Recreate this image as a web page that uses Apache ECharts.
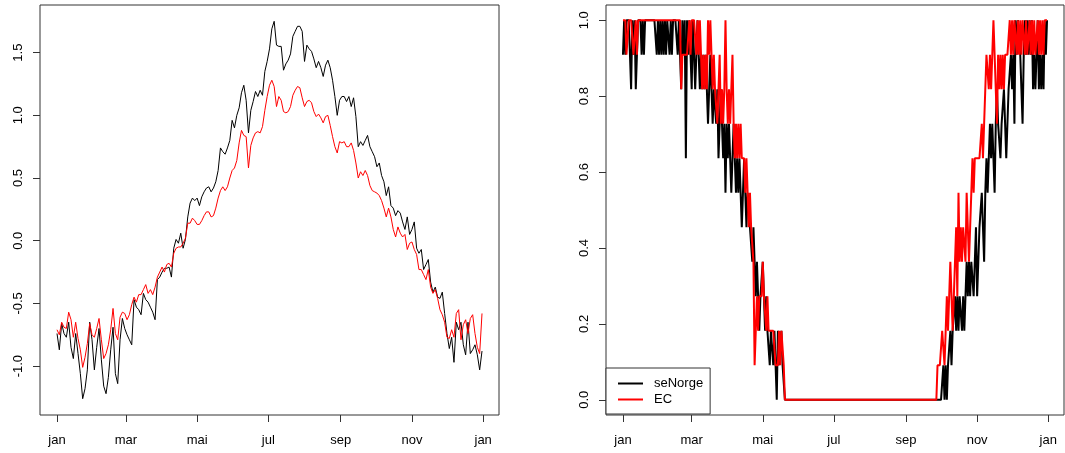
<!DOCTYPE html>
<html><head><meta charset="utf-8">
<script src="https://cdn.jsdelivr.net/npm/echarts@6/dist/echarts.min.js"></script>
<style>html,body{margin:0;padding:0;background:#fff}#c{width:1065px;height:453px}</style>
</head><body><div id="c"></div>
<script>
// ---- tick positions / labels ----
const monthTickDays = [1, 60, 121, 182, 244, 305, 366];
const monthTickLabels = ['jan', 'mar', 'mai', 'jul', 'sep', 'nov', 'jan'];
const anomTicks = [-1.0, -0.5, 0.0, 0.5, 1.0, 1.5];
const fracTicks = [0.0, 0.2, 0.4, 0.6, 0.8, 1.0];

// ---- left panel: anomaly series, sampled every 2nd day (day 1,3,...,365) ----
const anomDays = Array.from({length: 183}, (_, i) => 1 + 2 * i);
const senorgeAnom = [
 -0.74,-0.87,-0.66,-0.74,-0.77,-0.65,-0.85,-0.94,-0.74,-0.90,
 -1.06,-1.26,-1.18,-1.03,-0.65,-0.79,-1.03,-0.85,-0.70,-0.95,
 -1.16,-1.22,-1.09,-0.87,-0.69,-1.06,-1.14,-0.79,-0.62,-0.70,
 -0.75,-0.79,-0.83,-0.47,-0.53,-0.55,-0.59,-0.42,-0.47,-0.49,
 -0.53,-0.57,-0.63,-0.31,-0.29,-0.25,-0.22,-0.22,-0.21,-0.29,
 -0.06,0.01,-0.02,0.06,-0.06,0.01,0.19,0.30,0.34,0.32,
 0.34,0.28,0.35,0.39,0.42,0.43,0.39,0.42,0.47,0.56,
 0.74,0.71,0.69,0.74,0.80,0.96,0.90,1.00,1.06,1.18,
 1.24,1.12,0.86,1.04,1.11,1.19,1.15,1.20,1.16,1.35,
 1.43,1.53,1.69,1.75,1.56,1.55,1.55,1.36,1.41,1.44,
 1.49,1.63,1.67,1.71,1.71,1.67,1.43,1.56,1.53,1.51,
 1.45,1.38,1.43,1.38,1.31,1.40,1.44,1.38,1.28,1.15,
 1.00,1.12,1.15,1.15,1.11,1.15,1.07,1.14,0.99,0.75,
 0.79,0.76,0.80,0.84,0.75,0.71,0.67,0.59,0.62,0.52,
 0.47,0.36,0.43,0.28,0.26,0.20,0.24,0.22,0.15,0.09,
 0.19,0.05,0.09,0.15,-0.06,-0.10,-0.07,-0.23,-0.19,-0.15,
 -0.33,-0.41,-0.37,-0.45,-0.46,-0.41,-0.58,-0.74,-0.86,-0.77,
 -0.97,-0.65,-0.71,-0.65,-0.83,-0.91,-0.65,-0.90,-0.87,-0.83,
 -0.91,-1.03,-0.88
];
const ecAnom = [
 -0.71,-0.75,-0.65,-0.69,-0.70,-0.57,-0.63,-0.77,-0.65,-0.78,
 -0.87,-1.01,-0.93,-0.82,-0.66,-0.75,-0.77,-0.70,-0.62,-0.79,
 -0.94,-0.90,-0.83,-0.71,-0.54,-0.74,-0.79,-0.61,-0.57,-0.58,
 -0.63,-0.59,-0.51,-0.45,-0.49,-0.43,-0.43,-0.39,-0.35,-0.42,
 -0.39,-0.43,-0.37,-0.29,-0.25,-0.21,-0.25,-0.19,-0.18,-0.21,
 -0.10,-0.06,-0.05,-0.05,-0.02,0.02,0.14,0.14,0.18,0.16,
 0.13,0.13,0.16,0.20,0.23,0.23,0.19,0.20,0.26,0.34,
 0.40,0.43,0.40,0.43,0.50,0.56,0.58,0.64,0.78,0.88,
 0.84,0.83,0.58,0.76,0.82,0.86,0.87,0.86,0.91,1.04,
 1.15,1.24,1.28,1.23,1.07,1.15,1.12,1.03,1.02,1.03,
 1.07,1.16,1.20,1.23,1.22,1.14,1.07,1.11,1.12,1.10,
 1.03,0.99,1.01,0.98,0.94,0.99,1.00,0.92,0.83,0.75,
 0.70,0.79,0.78,0.79,0.75,0.75,0.78,0.72,0.62,0.50,
 0.55,0.52,0.56,0.52,0.44,0.40,0.39,0.38,0.36,0.32,
 0.26,0.19,0.26,0.19,0.09,0.03,0.11,0.06,0.03,0.05,
 -0.07,-0.02,-0.01,-0.07,-0.11,-0.23,-0.23,-0.27,-0.31,-0.23,
 -0.37,-0.42,-0.39,-0.46,-0.55,-0.59,-0.65,-0.77,-0.78,-0.71,
 -0.77,-0.58,-0.55,-0.79,-0.67,-0.63,-0.74,-0.62,-0.59,-0.74,
 -0.85,-0.90,-0.58
];

// ---- right panel: daily number of stations (of 11) with snow, day 1..365 ----
const nStations = 11;
const dayOfYear = Array.from({length: 365}, (_, i) => i + 1);
const senorgeCount = [
 10,11,10,11,11,11,10,9,11,10,
 11,9,10,11,11,11,10,11,10,11,
 11,11,11,11,11,11,11,11,11,10,
 11,10,11,10,11,10,11,10,11,11,
 10,11,10,11,11,11,11,10,11,10,
 9,11,10,11,7,11,10,11,10,9,
 11,10,9,10,11,10,9,10,9,10,
 9,10,9,8,9,10,9,8,9,9,
 8,9,7,8,9,8,7,8,6,8,
 7,8,7,6,7,8,7,6,7,6,
 7,6,5,6,7,6,5,6,6,5,
 5,4,5,4,3,4,3,2,3,3,
 4,3,2,3,2,2,1,2,2,1,
 2,2,0,2,1,1,2,1,1,0,
 0,0,0,0,0,0,0,0,0,0,
 0,0,0,0,0,0,0,0,0,0,
 0,0,0,0,0,0,0,0,0,0,
 0,0,0,0,0,0,0,0,0,0,
 0,0,0,0,0,0,0,0,0,0,
 0,0,0,0,0,0,0,0,0,0,
 0,0,0,0,0,0,0,0,0,0,
 0,0,0,0,0,0,0,0,0,0,
 0,0,0,0,0,0,0,0,0,0,
 0,0,0,0,0,0,0,0,0,0,
 0,0,0,0,0,0,0,0,0,0,
 0,0,0,0,0,0,0,0,0,0,
 0,0,0,0,0,0,0,0,0,0,
 0,0,0,0,0,1,0,1,0,1,
 1,2,1,2,2,3,2,3,2,3,
 3,2,3,2,3,4,3,4,3,4,
 4,3,4,5,3,4,5,5,6,5,
 4,6,7,6,7,8,7,8,7,6,
 8,9,8,8,7,8,8,9,8,7,
 8,9,9,10,9,10,8,11,10,11,
 11,10,9,8,10,11,10,11,10,11,
 10,11,9,10,9,10,11,9,10,9,
 10,9,11,10,11
];
const ecCount = [
 11,11,11,10,10,11,11,11,11,10,
 10,11,10,11,11,11,11,11,11,11,
 11,11,11,11,11,11,11,11,11,11,
 11,11,11,11,11,11,11,11,11,11,
 11,11,11,11,11,11,11,11,11,11,
 9,10,10,10,10,10,10,11,10,11,
 11,11,11,10,11,10,11,10,9,10,
 9,10,9,11,10,11,10,9,10,9,
 9,8,9,10,8,9,8,9,11,9,
 8,9,8,9,10,8,7,8,7,8,
 7,8,7,7,7,6,7,6,5,6,
 5,5,4,1,2,3,2,3,3,3,
 4,3,3,2,3,2,2,2,2,2,
 2,1,1,1,2,1,2,2,1,0,
 0,0,0,0,0,0,0,0,0,0,
 0,0,0,0,0,0,0,0,0,0,
 0,0,0,0,0,0,0,0,0,0,
 0,0,0,0,0,0,0,0,0,0,
 0,0,0,0,0,0,0,0,0,0,
 0,0,0,0,0,0,0,0,0,0,
 0,0,0,0,0,0,0,0,0,0,
 0,0,0,0,0,0,0,0,0,0,
 0,0,0,0,0,0,0,0,0,0,
 0,0,0,0,0,0,0,0,0,0,
 0,0,0,0,0,0,0,0,0,0,
 0,0,0,0,0,0,0,0,0,0,
 0,0,0,0,0,0,0,0,0,0,
 1,1,1,1,2,2,1,2,3,2,
 3,4,3,2,3,3,5,3,6,4,
 5,4,5,5,4,6,5,4,5,6,
 7,6,7,7,7,7,7,7,8,7,
 8,8,10,10,9,10,9,10,11,10,
 9,8,10,9,10,9,10,9,10,10,
 10,10,11,10,11,10,11,11,10,11,
 10,11,10,11,11,10,11,10,10,11,
 10,11,10,11,10,10,11,10,11,10,
 11,10,11,11,11
];

// ---- chart ----
const FONT = '"Liberation Sans", Arial, sans-serif';
const BOX = '#333';
function xAxisCfg(g) {
  return {
    type: 'value', gridIndex: g, min: -13.56, max: 379.56,
    axisLine: {show: false, onZero: false}, splitLine: {show: false},
    axisTick: {show: true, customValues: monthTickDays, length: 7, lineStyle: {color: BOX, width: 1}},
    axisLabel: {show: true, customValues: monthTickDays, margin: 19, color: '#000', fontSize: 13, fontFamily: FONT,
      formatter: v => monthTickLabels[monthTickDays.indexOf(v)]}
  };
}
function yAxisCfg(g, min, max, ticks) {
  return {
    type: 'value', gridIndex: g, min: min, max: max,
    axisLine: {show: false, onZero: false}, splitLine: {show: false},
    axisTick: {show: true, customValues: ticks, length: 7, lineStyle: {color: BOX, width: 1}},
    axisLabel: {show: true, customValues: ticks, rotate: 90, margin: 15, color: '#000', fontSize: 13, fontFamily: FONT,
      formatter: v => v.toFixed(1)}
  };
}
const chart = echarts.init(document.getElementById('c'), null, {renderer: 'canvas'});
chart.setOption({
  animation: false,
  backgroundColor: '#fff',
  grid: [
    {left: 40, top: 5, width: 459, height: 410, show: true, borderColor: BOX, borderWidth: 1, backgroundColor: 'transparent'},
    {left: 606, top: 5, width: 458, height: 410, show: true, borderColor: BOX, borderWidth: 1, backgroundColor: 'transparent'}
  ],
  xAxis: [xAxisCfg(0), xAxisCfg(1)],
  yAxis: [yAxisCfg(0, -1.39, 1.88, anomTicks), yAxisCfg(1, -0.04, 1.04, fracTicks)],
  legend: {
    orient: 'vertical', left: 606, top: 368,
    padding: [9, 7, 8, 12], itemGap: 3,
    borderColor: BOX, borderWidth: 1, backgroundColor: '#fff',
    itemWidth: 25, itemHeight: 2,
    textStyle: {fontSize: 13, fontFamily: FONT, color: '#000', padding: [0, 0, 0, 6]},
    data: [
      {name: 'seNorge', icon: 'rect', itemStyle: {color: '#000'}},
      {name: 'EC', icon: 'rect', itemStyle: {color: '#ff0000'}}
    ]
  },
  series: [
    {name: 'seNorge anomaly', type: 'line', xAxisIndex: 0, yAxisIndex: 0, showSymbol: false, silent: true,
      data: anomDays.map((d, i) => [d, senorgeAnom[i]]), lineStyle: {color: '#000', width: 1}, itemStyle: {color: '#000'}},
    {name: 'EC anomaly', type: 'line', xAxisIndex: 0, yAxisIndex: 0, showSymbol: false, silent: true,
      data: anomDays.map((d, i) => [d, ecAnom[i]]), lineStyle: {color: '#ff0000', width: 1}, itemStyle: {color: '#ff0000'}},
    {name: 'seNorge', type: 'line', xAxisIndex: 1, yAxisIndex: 1, showSymbol: false, silent: true,
      data: dayOfYear.map((d, i) => [d, senorgeCount[i] / nStations]), lineStyle: {color: '#000', width: 2}, itemStyle: {color: '#000'}},
    {name: 'EC', type: 'line', xAxisIndex: 1, yAxisIndex: 1, showSymbol: false, silent: true,
      data: dayOfYear.map((d, i) => [d, ecCount[i] / nStations]), lineStyle: {color: '#ff0000', width: 2}, itemStyle: {color: '#ff0000'}}
  ]
});
</script>
</body></html>
